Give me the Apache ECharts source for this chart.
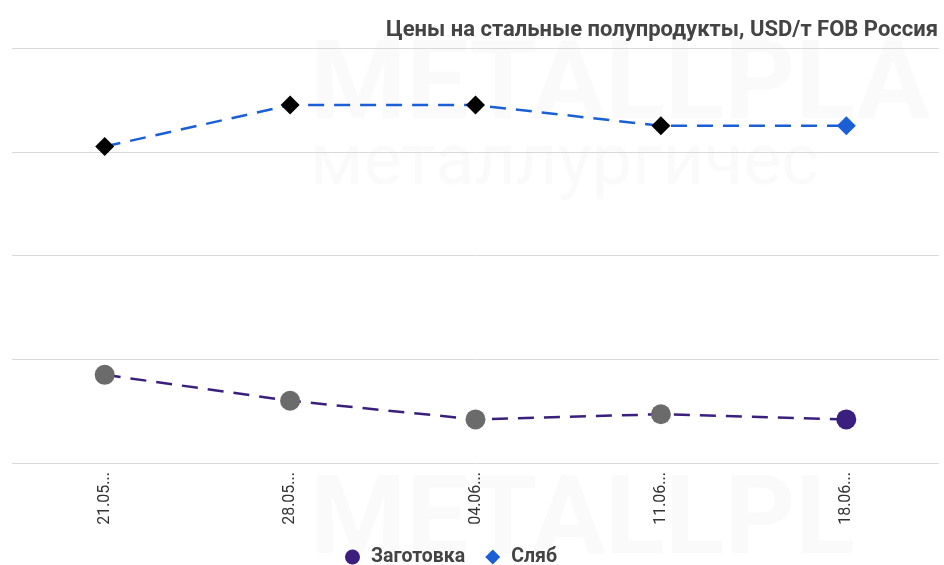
<!DOCTYPE html>
<html>
<head>
<meta charset="utf-8">
<script src="https://cdn.jsdelivr.net/npm/echarts@6/dist/echarts.min.js"></script>
<style>
  html, body { margin: 0; padding: 0; background: #fff; }
  #main { width: 944px; height: 565px; }
</style>
</head>
<body>
<div id="main"></div>
<script>
// данные
var categories = ['21.05.2021', '28.05.2021', '04.06.2021', '11.06.2021', '18.06.2021'];
var billet = [685, 660, 642, 647, 642];
var slab = [905, 945, 945, 925, 925];

var chart = echarts.init(document.getElementById('main'));

// последняя точка выделена цветом серии, остальные - серые/черные
var billetData = billet.map(function (v, i) {
    return { value: v, itemStyle: { color: i === billet.length - 1 ? '#3b1f7e' : '#6b6b6b' } };
});
var slabData = slab.map(function (v, i) {
    return { value: v, itemStyle: { color: i === slab.length - 1 ? '#1a5fd6' : '#000000' } };
});

var option = {
    animation: false,
    textStyle: { fontFamily: 'Roboto' },
    graphic: [
        { type: 'text', left: 310, top: 35, silent: true, z: -1,
          style: { text: 'METALLPLA', font: 'bold 110px Roboto', fill: '#fafafa' } },
        { type: 'text', left: 310, top: 130, silent: true, z: -1,
          style: { text: 'металлургичес', font: '72px Roboto', fill: '#fafafa' } },
        { type: 'text', left: 310, top: 470, silent: true, z: -1,
          style: { text: 'METALLPL', font: 'bold 110px Roboto', fill: '#fafafa' } }
    ],
    title: {
        text: 'Цены на стальные полупродукты, USD/т FOB Россия',
        right: 1,
        top: 14,
        textStyle: { fontSize: 22, fontWeight: 'bold', color: '#444', fontFamily: 'Roboto' }
    },
    legend: {
        top: 542,
        left: 340,
        itemGap: 20,
        itemWidth: 15,
        itemHeight: 15,
        textStyle: { fontSize: 19.5, fontWeight: 'bold', color: '#444', padding: [0, 0, 0, 6] },
        data: [
            { name: 'Заготовка', icon: 'circle', itemStyle: { color: '#3b1f7e' } },
            { name: 'Сляб', icon: 'diamond', itemStyle: { color: '#1a5fd6' } }
        ]
    },
    grid: { left: 12, right: 5, top: 48, bottom: 102 },
    xAxis: {
        type: 'category',
        data: categories,
        axisLine: { show: false },
        axisTick: { show: false },
        axisLabel: {
            rotate: 90,
            fontSize: 16,
            color: '#333',
            margin: 9,
            formatter: function (v) { return v.slice(0, 5) + '...'; }
        }
    },
    yAxis: {
        type: 'value',
        min: 600,
        max: 1000,
        interval: 100,
        axisLabel: { show: false },
        axisLine: { show: false },
        axisTick: { show: false },
        splitLine: { lineStyle: { color: '#d9d9d9', width: 1 } }
    },
    series: [
        {
            name: 'Заготовка',
            type: 'line',
            data: billetData,
            symbol: 'circle',
            symbolSize: 20,
            color: '#3b1f7e',
            lineStyle: { color: '#3b1f7e', width: 2.5, type: [16, 10] }
        },
        {
            name: 'Сляб',
            type: 'line',
            data: slabData,
            symbol: 'diamond',
            symbolSize: 19,
            color: '#1a5fd6',
            lineStyle: { color: '#1a5fd6', width: 2.5, type: [16, 10] }
        }
    ]
};

chart.setOption(option);
</script>
</body>
</html>
